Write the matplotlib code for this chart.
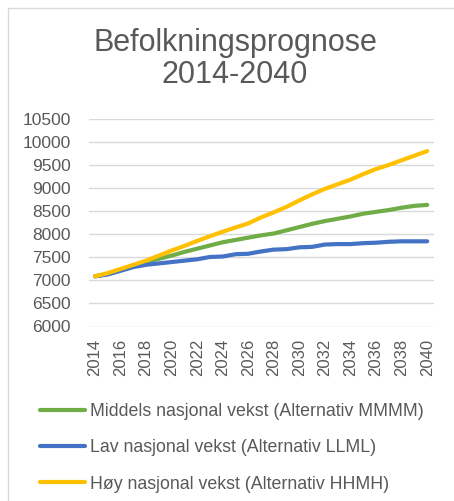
import matplotlib
matplotlib.use("Agg")
import matplotlib.pyplot as plt
from matplotlib.patches import Rectangle

years = list(range(2014, 2041))
middels = [7090, 7140, 7220, 7310, 7400, 7470, 7540, 7620, 7690, 7760, 7830, 7880, 7930,
           7980, 8020, 8090, 8160, 8230, 8290, 8340, 8390, 8450, 8490, 8530, 8580, 8620, 8640]
lav = [7090, 7130, 7210, 7290, 7340, 7370, 7400, 7430, 7460, 7510, 7520, 7570, 7580,
       7630, 7670, 7680, 7720, 7730, 7780, 7790, 7790, 7810, 7820, 7840, 7850, 7850, 7850]
hoy = [7090, 7160, 7250, 7340, 7430, 7540, 7650, 7750, 7860, 7960, 8060, 8150, 8240,
       8370, 8480, 8600, 8740, 8870, 8990, 9090, 9190, 9310, 9420, 9510, 9610, 9710, 9810]
labels = ["Middels nasjonal vekst (Alternativ MMMM)",
          "Lav nasjonal vekst (Alternativ LLML)",
          "Høy nasjonal vekst (Alternativ HHMH)"]
colors = ["#70AD47", "#4472C4", "#FFC000"]
yticks = list(range(6000, 10501, 500))
xticks = list(range(2014, 2041, 2))
title = "Befolkningsprognose\n2014-2040"

plt.rcParams['font.family'] = ['Liberation Sans', 'DejaVu Sans']
txt = "#595959"

fig = plt.figure(figsize=(4.54, 5.01), dpi=100)
fig.patches.append(Rectangle((8/454, -0.1), 1.2, 1 - 8/501 + 0.1, transform=fig.transFigure,
                             fill=False, edgecolor="#D9D9D9", linewidth=1))
ax = fig.add_axes([88.6/454, (501-326.5)/501, 345/454, 207.2/501])

for vals, lab, col in zip([middels, lav, hoy], labels, colors):
    ax.plot(years, vals, color=col, linewidth=3, label=lab, solid_capstyle='round')

ax.set_xlim(2013.5, 2040.5)
ax.set_ylim(6000, 10500)
ax.set_yticks(yticks)
ax.set_xticks(xticks)
ax.set_xticklabels([str(x) for x in xticks], rotation=90)
ax.grid(axis='y', color="#D9D9D9", linewidth=1)
ax.set_axisbelow(True)
for s in ax.spines.values():
    s.set_visible(False)
ax.tick_params(length=0, colors=txt, labelsize=12.5)
ax.tick_params(axis='y', pad=13)
ax.tick_params(axis='x', pad=9, labelsize=12)

fig.text(235/454, 1 - 59/501, title, ha='center', va='center', fontsize=22, color=txt,
         linespacing=1.05)

handles, labs = ax.get_legend_handles_labels()
fig.legend(handles, labs, loc='upper left', bbox_to_anchor=(33/454, 1 - 396/501),
           frameon=False, fontsize=12.8, labelcolor=txt, handlelength=2.5,
           handletextpad=0.3, labelspacing=1.08, borderaxespad=0)

fig.savefig("out.png", dpi=100)
